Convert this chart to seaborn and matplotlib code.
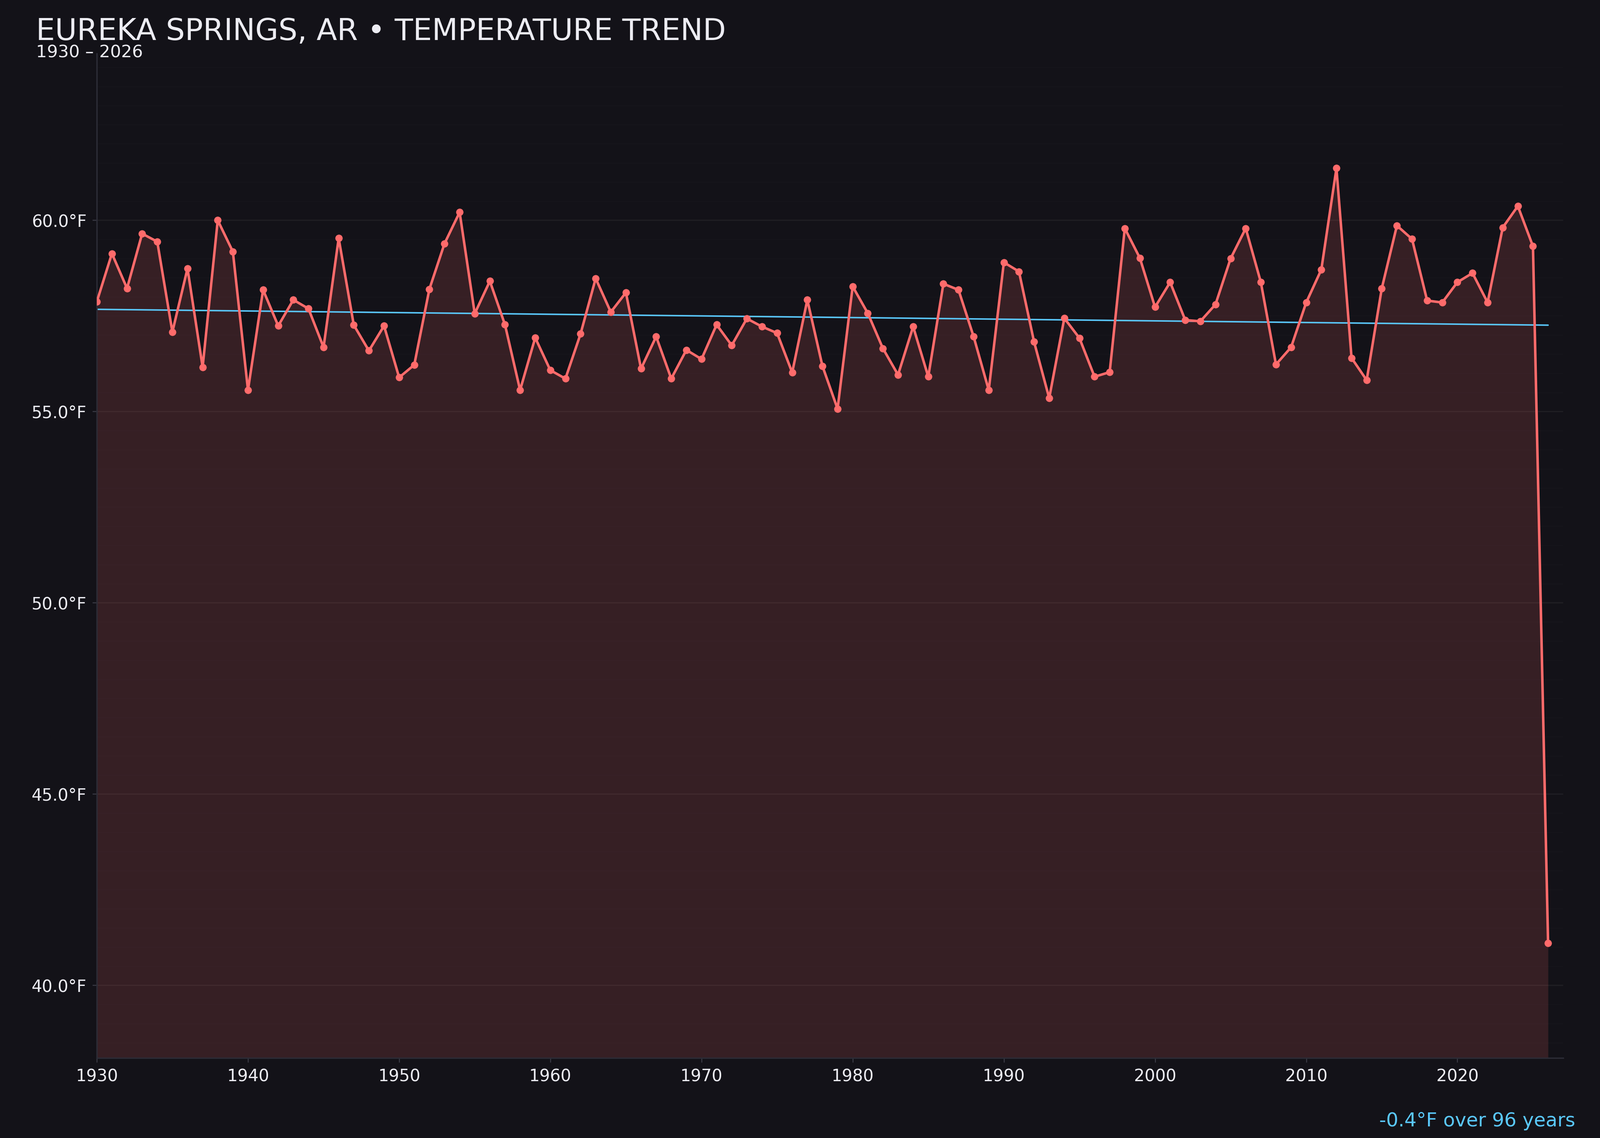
import numpy as np
import pandas as pd
import matplotlib
matplotlib.use("Agg")
import matplotlib.pyplot as plt
from matplotlib.ticker import MultipleLocator, FuncFormatter
import seaborn as sns

# annual mean temperature, Eureka Springs AR
years = list(range(1930, 2027))
temps = [
    57.87, 59.13, 58.22, 59.65, 59.44, 57.08, 58.74, 56.16, 60.00, 59.18,  # 1930s
    55.56, 58.18, 57.24, 57.92, 57.69, 56.68, 59.53, 57.26, 56.59, 57.24,  # 1940s
    55.89, 56.22, 58.20, 59.39, 60.21, 57.56, 58.41, 57.27, 55.56, 56.93,  # 1950s
    56.08, 55.86, 57.03, 58.48, 57.60, 58.11, 56.12, 56.96, 55.86, 56.61,  # 1960s
    56.37, 57.27, 56.73, 57.43, 57.22, 57.05, 56.02, 57.92, 56.19, 55.07,  # 1970s
    58.27, 57.57, 56.65, 55.96, 57.22, 55.91, 58.34, 58.18, 56.96, 55.56,  # 1980s
    58.90, 58.66, 56.82, 55.35, 57.44, 56.92, 55.91, 56.03, 59.79, 59.01,  # 1990s
    57.73, 58.38, 57.39, 57.36, 57.80, 59.00, 59.79, 58.38, 56.23, 56.68,  # 2000s
    57.85, 58.71, 61.36, 56.40, 55.82, 58.22, 59.86, 59.51, 57.90, 57.85,  # 2010s
    58.38, 58.62, 57.85, 59.81, 60.37, 59.32, 41.10,                      # 2020s
]
title = "EUREKA SPRINGS, AR \u2022 TEMPERATURE TREND"
x_ticks = [1930, 1940, 1950, 1960, 1970, 1980, 1990, 2000, 2010, 2020]

BG = "#131218"
LINE = "#ff6b6b"
TREND = "#5ac8fa"
TXT = "#ececf2"

df = pd.DataFrame({"year": years, "temp": temps})

# linear trend
coef = np.polyfit(df["year"], df["temp"], 1)
df["trend"] = np.polyval(coef, df["year"])
span = years[-1] - years[0]
delta = coef[0] * span

sns.set_theme(style="dark", rc={
    "figure.facecolor": BG,
    "axes.facecolor": BG,
    "axes.edgecolor": "#2c2c36",
    "text.color": TXT,
    "xtick.color": "#3a3a45",
    "ytick.color": "#3a3a45",
    "xtick.labelcolor": TXT,
    "ytick.labelcolor": TXT,
})
plt.rcParams["font.family"] = ["DejaVu Sans"]

fig = plt.figure(figsize=(4000 / 300, 2844 / 300), dpi=300)
ax = fig.add_axes([0.0605, 0.0703, 0.9165, 0.8827])

ymin = min(temps) - 3
ymax = max(temps) + 3

ax.fill_between(df["year"], df["temp"], ymin, color=LINE, alpha=0.15, linewidth=0, zorder=1)
sns.lineplot(data=df, x="year", y="temp", ax=ax, color=LINE, linewidth=1.5,
             marker="o", markersize=4.4, markeredgewidth=0, zorder=3)
sns.lineplot(data=df, x="year", y="trend", ax=ax, color=TREND, linewidth=0.9, zorder=2)

ax.set_xlim(years[0], years[-1] + 1)
ax.set_ylim(ymin, ymax)
ax.set_xticks(x_ticks)
ax.yaxis.set_major_locator(MultipleLocator(5))
ax.yaxis.set_minor_locator(MultipleLocator(0.5))
ax.yaxis.set_major_formatter(FuncFormatter(lambda v, p: f"{v:.1f}\u00b0F"))
ax.set_xlabel("")
ax.set_ylabel("")

ax.grid(axis="y", which="major", color="white", alpha=0.05, linewidth=0.8)
ax.grid(axis="y", which="minor", color="white", alpha=0.015, linewidth=0.6)
ax.grid(axis="x", visible=False)

ax.tick_params(axis="both", which="major", labelsize=10, length=2.6, width=0.6, bottom=True, left=True)
ax.tick_params(axis="y", which="minor", left=False)
for s in ["top", "right"]:
    ax.spines[s].set_visible(False)
for s in ["left", "bottom"]:
    ax.spines[s].set_color("#2c2c36")
    ax.spines[s].set_linewidth(0.8)

fig.text(0.0225, 0.965, title, fontsize=18, color=TXT, ha="left", va="baseline")
fig.text(0.0225, 0.9497, f"{years[0]} \u2013 {years[-1]}", fontsize=10.3, color=TXT, ha="left", va="baseline")
fig.text(0.9845, 0.0102, f"{delta:.1f}\u00b0F over {span} years", fontsize=11.5,
         color=TREND, ha="right", va="baseline")

fig.savefig("out.png", dpi=300, facecolor=BG)
